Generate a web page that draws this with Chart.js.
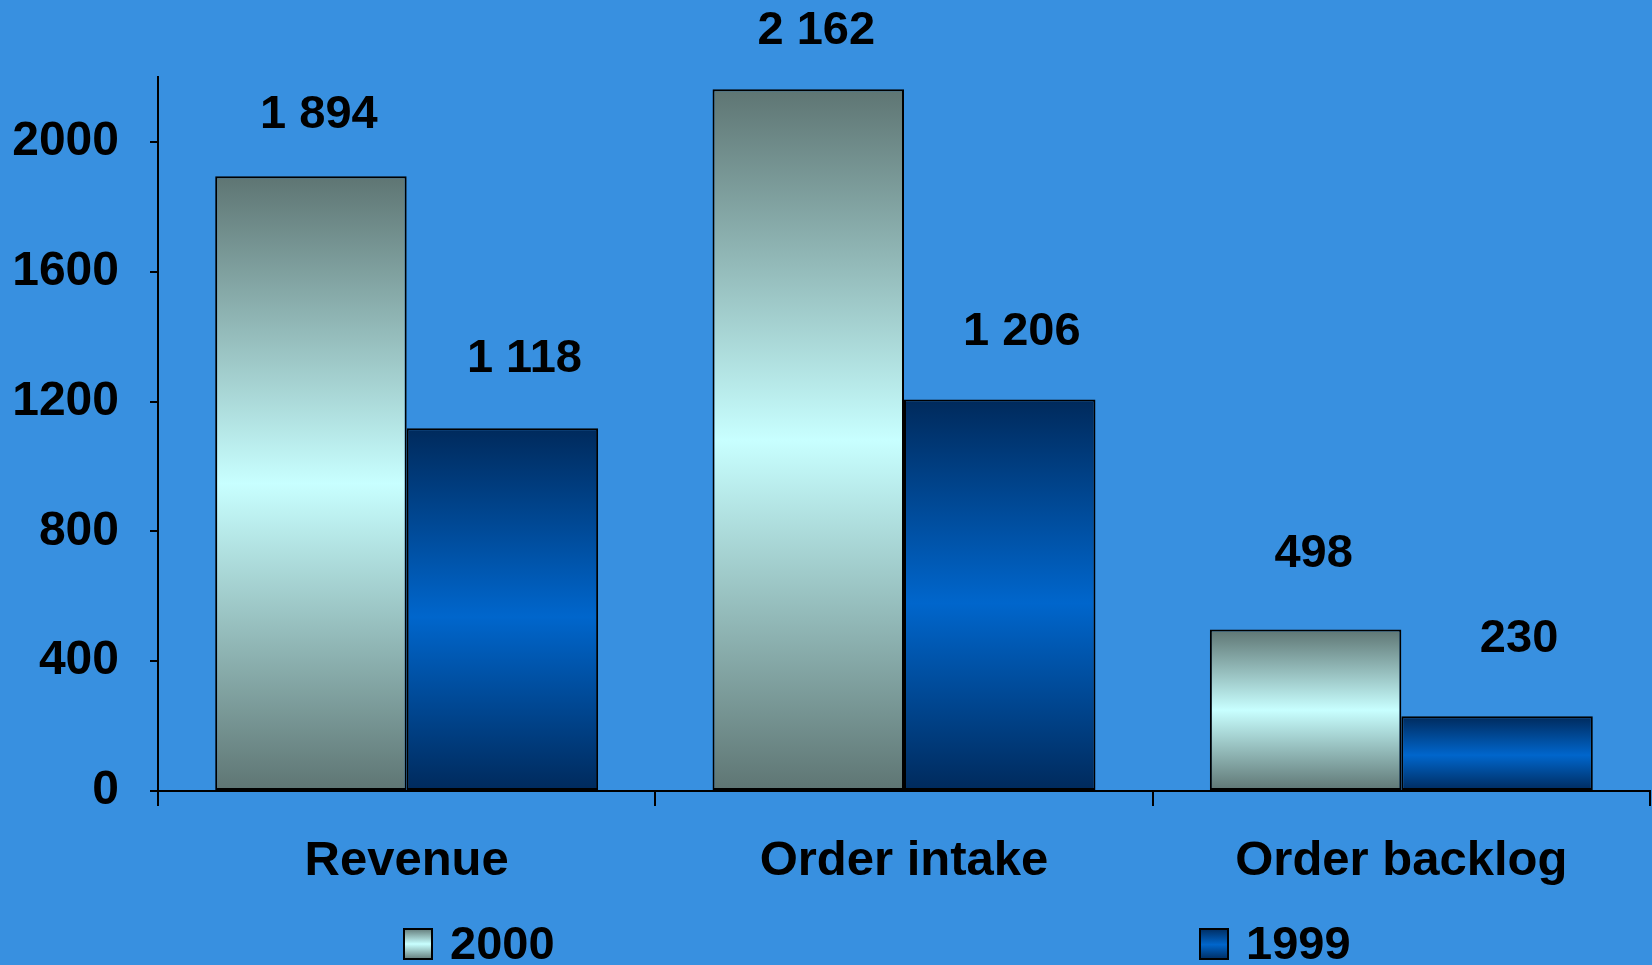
<!DOCTYPE html>
<html>
<head>
<meta charset="utf-8">
<script src="https://cdn.jsdelivr.net/npm/chart.js@4/dist/chart.umd.min.js"></script>
<style>
  html, body { margin: 0; padding: 0; background: #3890e0; }
  #wrap { width: 1652px; height: 965px; position: relative; }
  canvas { display: block; }
</style>
</head>
<body>
<div id="wrap"><canvas id="chart" width="1652" height="965"></canvas></div>
<script>
// Key figures, two years side by side
const categories = ['Revenue', 'Order intake', 'Order backlog'];
const values2000 = [1894, 2162, 498];
const values1999 = [1118, 1206, 230];
const seriesNames = ['2000', '1999'];
const yTicks = [0, 400, 800, 1200, 1600, 2000];
const yMax = 2200;

const FONT_FAMILY = '"Liberation Sans", Arial, Helvetica, sans-serif';
const FONT_SIZE = 47;

// Vertical "metallic" fills: dark at both ends, bright in the middle
const stops2000 = [[0, '#5e7573'], [0.5, '#c8ffff'], [1, '#5e7573']];
const stops1999 = [[0, '#002a5c'], [0.52, '#0066cc'], [1, '#002a5c']];

function barGradient(stops) {
  return (c) => {
    const chart = c.chart;
    const y = chart.scales && chart.scales.y;
    if (c.type !== 'data' || !y) return stops[1][1];
    const top = y.getPixelForValue(c.raw);
    const base = y.getPixelForValue(0);
    if (!isFinite(top) || !isFinite(base) || top === base) return stops[1][1];
    const g = chart.ctx.createLinearGradient(0, top, 0, base);
    stops.forEach(([o, col]) => g.addColorStop(o, col));
    return g;
  };
}

function boxGradient(ctx, stops, y0, y1) {
  const g = ctx.createLinearGradient(0, y0, 0, y1);
  stops.forEach(([o, col]) => g.addColorStop(o, col));
  return g;
}

// Numbers with a space as thousands separator: 1 894
function fmt(v) {
  return String(v).replace(/\B(?=(\d{3})+(?!\d))/g, ' ');
}

// Value labels above each bar; shorter bars carry their label a little higher
const labelShift = [8, 22];
const valueLabels = {
  id: 'valueLabels',
  afterDatasetsDraw(chart) {
    const ctx = chart.ctx;
    ctx.save();
    ctx.font = `bold ${FONT_SIZE}px ${FONT_FAMILY}`;
    ctx.fillStyle = '#000';
    ctx.textAlign = 'center';
    ctx.textBaseline = 'alphabetic';
    chart.data.datasets.forEach((ds, di) => {
      chart.getDatasetMeta(di).data.forEach((bar, i) => {
        const gap = 67 - ds.data[i] * 0.01;
        ctx.fillText(fmt(ds.data[i]), bar.x + labelShift[di], bar.y - gap);
      });
    });
    ctx.restore();
  }
};

// Legend row along the bottom edge
const legendSlots = [0.164, 0.698];
const bottomLegend = {
  id: 'bottomLegend',
  afterDraw(chart) {
    const { ctx, chartArea } = chart;
    const w = chartArea.right - chartArea.left;
    const boxW = 30, boxH = 32, boxY = 928;
    const stopsList = [stops2000, stops1999];
    ctx.save();
    chart.data.datasets.forEach((ds, di) => {
      const x = Math.round(chartArea.left + w * legendSlots[di]);
      ctx.fillStyle = boxGradient(ctx, stopsList[di], boxY, boxY + boxH);
      ctx.fillRect(x, boxY, boxW, boxH);
      ctx.lineWidth = 2;
      ctx.strokeStyle = '#000';
      ctx.strokeRect(x + 1, boxY + 1, boxW - 2, boxH - 2);
      ctx.font = `bold ${FONT_SIZE}px ${FONT_FAMILY}`;
      ctx.fillStyle = '#000';
      ctx.textAlign = 'left';
      ctx.textBaseline = 'middle';
      ctx.fillText(ds.label, x + boxW + 17, boxY + boxH / 2 + 2);
    });
    ctx.restore();
  }
};

new Chart(document.getElementById('chart'), {
  type: 'bar',
  data: {
    labels: categories,
    datasets: [
      {
        label: seriesNames[0],
        data: values2000,
        backgroundColor: barGradient(stops2000),
        borderColor: '#000',
        borderWidth: 2,
        borderSkipped: false
      },
      {
        label: seriesNames[1],
        data: values1999,
        backgroundColor: barGradient(stops1999),
        borderColor: '#000',
        borderWidth: 2,
        borderSkipped: false
      }
    ]
  },
  options: {
    responsive: false,
    animation: false,
    devicePixelRatio: 1,
    layout: { padding: { top: 77, right: 2, left: 0, bottom: 0 } },
    datasets: { bar: { barPercentage: 1.0, categoryPercentage: 0.77 } },
    plugins: {
      legend: { display: false },
      tooltip: { enabled: false },
      title: { display: false }
    },
    scales: {
      x: {
        offset: true,
        grid: {
          offset: true,
          drawOnChartArea: false,
          drawTicks: true,
          tickLength: 15,
          color: '#000',
          lineWidth: 2
        },
        border: { display: true, color: '#000', width: 2 },
        ticks: {
          color: '#000',
          padding: 26,
          maxRotation: 0,
          autoSkip: false,
          font: { family: FONT_FAMILY, size: 49, weight: 'bold' }
        },
        afterFit(scale) { scale.height = 174; }
      },
      y: {
        min: 0,
        max: yMax,
        grid: {
          drawOnChartArea: false,
          drawTicks: true,
          tickLength: 8,
          color: '#000',
          lineWidth: 2
        },
        border: { display: true, color: '#000', width: 2 },
        ticks: {
          color: '#000',
          padding: 31,
          font: { family: FONT_FAMILY, size: 48, weight: 'bold' },
          callback: (v) => String(v)
        },
        afterBuildTicks(scale) { scale.ticks = yTicks.map(v => ({ value: v })); },
        afterFit(scale) { scale.width = 158; }
      }
    }
  },
  plugins: [valueLabels, bottomLegend]
});
</script>
</body>
</html>
